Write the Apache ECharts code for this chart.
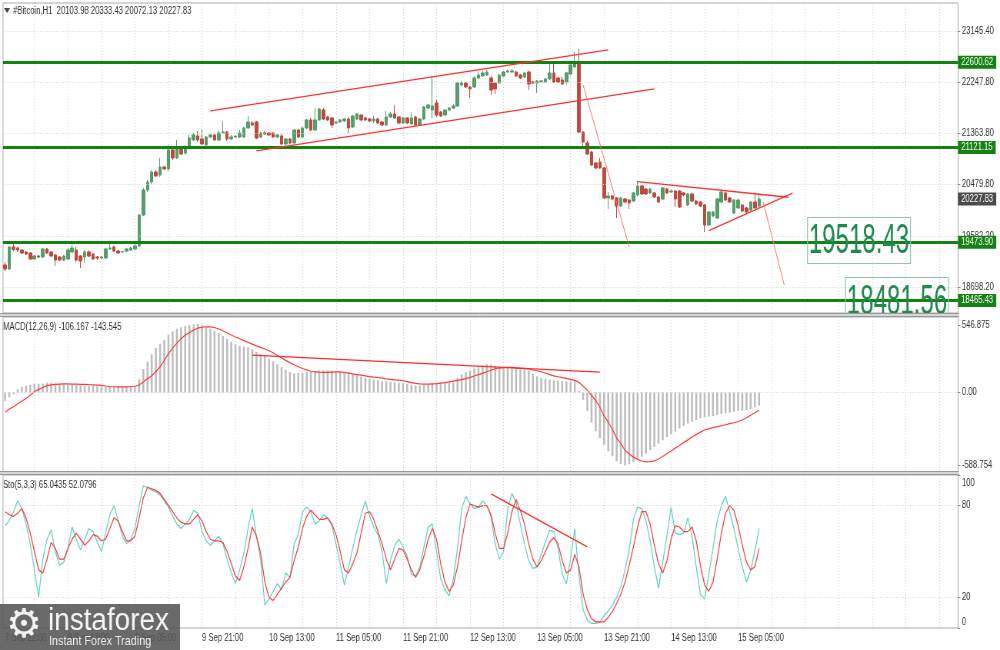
<!DOCTYPE html>
<html><head><meta charset="utf-8">
<script src="https://cdn.jsdelivr.net/npm/echarts@6/dist/echarts.min.js"></script>
<style>
html,body{margin:0;padding:0;background:#fff;overflow:hidden;width:1000px;height:650px}
#wrap{width:1000px;height:650px;overflow:hidden}
#c{width:1300px;height:650px;transform:scaleX(0.7692308);transform-origin:0 0}
</style>
</head><body><div id="wrap"><div id="c"></div></div>
<script>
// ---------------- DATA ----------------
// hourly candles [open, close, low, high], 7 Sep 22:00 .. 15 Sep 10:00
const candles = [
[19081,19011,18977,19133],[19011,19394,18994,19411],[19394,19350,19324,19446],[19376,19341,19307,19394],
[19341,19289,19272,19359],[19307,19272,19255,19324],[19289,19185,19168,19307],[19185,19237,19168,19255],
[19237,19220,19203,19255],[19220,19359,19203,19376],[19359,19289,19272,19376],[19307,19237,19220,19324],
[19255,19168,19064,19272],[19220,19168,19150,19237],[19168,19237,19150,19255],[19185,19341,19168,19376],
[19307,19376,19289,19428],[19341,19168,19133,19394],[19237,19150,19029,19255],[19220,19307,19116,19341],
[19307,19237,19220,19341],[19272,19185,19168,19289],[19220,19203,19168,19237],[19203,19220,19185,19237],
[19203,19359,19185,19376],[19359,19376,19341,19463],[19394,19324,19307,19411],[19324,19289,19272,19341],
[19307,19315,19289,19324],[19324,19359,19307,19376],[19341,19376,19324,19394],[19359,19411,19341,19446],
[19411,19949,19394,19967],[19949,20384,19932,20418],[20384,20523,20349,20557],[20523,20696,20488,20731],
[20696,20627,20610,20731],[20644,20783,20610,20940],[20783,20749,20731,20801],[20749,21079,20714,21165],
[21079,20940,20905,21113],[20940,21096,20922,21252],[21096,21009,20992,21131],[21026,21113,20992,21165],
[21113,21287,21096,21339],[21252,21339,21235,21374],[21322,21252,21217,21409],[21270,21183,21165,21426],
[21165,21304,21148,21322],[21304,21339,21287,21356],[21339,21252,21235,21356],[21252,21374,21235,21409],
[21374,21391,21356,21582],[21391,21270,21235,21409],[21270,21304,21252,21339],[21304,21313,21287,21339],
[21304,21374,21287,21426],[21304,21461,21287,21478],[21461,21565,21443,21669],[21547,21513,21495,21582],
[21565,21287,21270,21582],[21304,21374,21287,21391],[21374,21356,21339,21409],[21374,21339,21322,21391],
[21374,21304,21287,21391],[21304,21339,21287,21356],[21322,21183,21165,21356],[21183,21270,21148,21287],
[21270,21200,21183,21287],[21200,21426,21183,21443],[21426,21304,21287,21443],[21304,21461,21287,21478],
[21461,21600,21443,21617],[21600,21426,21409,21634],[21426,21600,21409,21808],[21600,21791,21582,21808],
[21773,21617,21600,21808],[21652,21600,21582,21669],[21634,21513,21461,21652],[21547,21565,21530,21582],
[21565,21600,21547,21617],[21582,21617,21565,21634],[21617,21461,21374,21652],[21478,21669,21461,21686],
[21617,21704,21600,21721],[21686,21600,21582,21704],[21634,21600,21582,21652],[21617,21582,21565,21634],
[21582,21617,21547,21669],[21617,21547,21530,21634],[21565,21513,21495,21582],[21513,21652,21495,21756],
[21652,21704,21634,21739],[21704,21634,21617,21860],[21652,21547,21530,21669],[21547,21634,21530,21652],
[21634,21547,21530,21652],[21530,21634,21513,21739],[21652,21513,21478,21669],[21513,21617,21495,21634],
[21617,21825,21600,21843],[21808,21860,21791,21878],[21773,21843,21634,22364],[21895,21686,21652,21947],
[21739,21669,21652,21756],[21686,21773,21669,21791],[21773,21808,21756,21825],[21808,21843,21791,21878],
[21843,22242,21825,22260],[22207,22242,22190,22277],[22242,22173,22156,22260],[22173,22138,21982,22190],
[22173,22329,22156,22364],[22329,22381,22312,22433],[22364,22416,22347,22451],[22381,22433,22364,22468],
[22329,22121,22034,22364],[22242,22138,22051,22260],[22242,22381,22225,22399],[22364,22433,22347,22451],
[22433,22451,22416,22468],[22433,22451,22416,22486],[22433,22364,22347,22451],[22381,22329,22312,22399],
[22347,22416,22329,22433],[22433,22225,22121,22451],[22260,22242,22225,22277],[22242,22277,22069,22294],
[22260,22277,22242,22294],[22260,22312,22242,22329],[22312,22416,22294,22590],[22416,22260,22242,22590],
[22329,22260,22242,22347],[22294,22225,22207,22347],[22260,22416,22225,22433],[22399,22555,22381,22572],
[22520,22590,22503,22781],[22572,21391,21374,22833],[21391,21217,21148,21409],[21200,21009,20992,21235],
[21044,20818,20801,21061],[20853,20766,20749,20870],[20870,20766,20749,20940],[20766,20245,20227,20783],
[20245,20280,20054,20349],[20280,20227,20210,20297],[20245,20106,19897,20262],[20106,20245,20088,20262],
[20227,20175,20158,20245],[20210,20158,20054,20227],[20193,20332,20175,20349],[20297,20453,20280,20540],
[20453,20314,20297,20471],[20401,20314,20297,20418],[20332,20401,20314,20418],[20332,20262,20245,20349],
[20262,20175,20158,20280],[20227,20418,20210,20436],[20401,20332,20314,20418],[20349,20366,20332,20384],
[20366,20227,20088,20384],[20366,20088,20071,20384],[20332,20297,20280,20349],[20123,20314,20106,20332],
[20314,20193,20175,20332],[20193,20141,20123,20210],[20175,20106,20088,20193],[20123,19776,19654,20141],
[19776,20002,19758,20019],[19932,20002,19915,20019],[19897,20227,19880,20245],[20175,20349,20158,20401],
[20332,20210,20193,20349],[20245,20175,20158,20262],[19984,20210,19967,20227],[20071,20210,20054,20227],
[20123,20019,20002,20141],[20071,20002,19984,20088],[20036,20175,20019,20193],[20175,20071,20054,20349],
[20103.98,20227.83,20072.13,20333.43]
];
const macdMain = [
-70,-40,-15,25,45,55,62,68,70,72,
80,78,72,70,68,66,64,60,58,56,
54,52,50,48,46,45,45,46,46,47,
48,52,110,190,250,310,360,395,425,470,
495,515,528,538,546,552,555,545,530,515,
500,480,458,435,410,390,378,372,368,350,
330,312,298,275,252,228,205,185,165,155,
160,160,165,168,172,178,180,180,178,172,
168,165,160,150,140,128,118,110,105,100,
92,88,85,82,80,75,70,62,55,55,
60,65,70,72,75,78,80,82,115,145,
165,178,195,208,222,230,225,215,210,208,
205,200,198,195,190,175,150,130,118,112,
105,100,96,92,90,90,88,15,-60,-150,
-245,-315,-370,-425,-478,-518,-558,-580,-590,-582,
-565,-545,-522,-496,-468,-442,-415,-388,-362,-338,
-318,-292,-272,-252,-238,-224,-210,-202,-197,-192,
-183,-175,-170,-165,-157,-151,-148,-143,-138,-121,
-106.167
];
const macdSignal = [
-160,-135,-116,-92,-70,-50,-22,5,25,40,
55,62,66,68,69,69,68,67,66,65,
63,62,60,57,52,48,46,45,45,45,
46,50,60,85,112,135,170,208,260,315,
360,400,435,465,485,505,522,530,533,532,
527,515,500,484,466,450,436,420,406,392,
378,366,352,338,322,300,280,260,242,225,
208,194,183,172,166,164,163,163,165,167,
168,163,157,150,145,140,134,129,125,121,
116,110,106,102,100,95,88,80,74,70,
68,68,70,72,76,80,86,92,98,104,
112,122,133,144,155,168,180,192,198,202,
204,204,200,197,195,190,182,176,168,158,
144,135,127,120,114,106,98,82,50,19,
-25,-65,-120,-190,-240,-300,-372,-415,-470,-500,
-525,-543,-556,-563,-562,-555,-540,-520,-496,-475,
-452,-430,-405,-385,-362,-342,-322,-305,-295,-285,
-278,-270,-262,-253,-246,-236,-224,-205,-185,-165,
-143.545
];
const stochK = [
67,70,76,83,78,68,55,38,20,45,
58,64,50,41,43,52,66,58,51,58,
65,63,56,50,62,74,80,70,60,55,
58,65,80,93,92,90,89,87,83,79,
73,68,65,68,71,77,75,63,57,54,
57,60,55,45,36,29,38,49,65,78,
60,45,15,19,24,29,25,36,33,55,
61,76,79,76,68,70,74,72,67,55,
42,28,40,52,64,74,83,73,66,61,
50,29,44,54,58,53,47,35,34,40,
53,66,68,50,32,25,21,32,52,78,
86,81,78,79,83,80,73,55,45,50,
78,88,82,68,55,44,39,40,48,56,
64,63,52,35,29,45,65,34,12,5,
3,3,4,8,11,15,20,27,38,51,
71,79,78,70,57,40,26,43,60,79,
62,61,62,72,60,40,22,19,35,52,
70,80,86,76,65,52,40,30,38,50,
65.0435
];
const stochD = [
76,74,73,75,78,72,62,50,38,36,
45,56,52,45,45,52,58,62,58,54,
57,61,60,57,58,65,72,70,63,57,
57,60,72,85,92,91,90,88,84,80,
76,72,69,68,68,71,74,70,63,58,
57,57,56,50,42,34,31,40,52,66,
60,49,30,20,18,22,26,30,33,44,
53,65,73,77,74,71,71,72,68,61,
50,38,36,42,49,62,75,76,71,63,
55,45,38,45,52,51,45,38,33,38,
47,58,65,58,42,30,24,28,40,57,
72,81,80,79,80,80,74,62,52,52,
62,76,84,77,68,55,45,40,44,50,
56,59,55,44,36,38,48,40,22,12,
6,4,4,4,7,11,16,22,30,41,
53,66,76,76,68,54,42,36,44,58,
67,66,63,63,66,57,41,28,24,30,
45,62,75,80,77,67,54,43,38,40,
52.0796
];
const timeLabels = ['7 Sep 22:00','8 Sep 13:00','9 Sep 05:00','9 Sep 21:00','10 Sep 13:00','11 Sep 05:00',
  '11 Sep 21:00','12 Sep 13:00','13 Sep 05:00','13 Sep 21:00','14 Sep 13:00','15 Sep 05:00'];
const priceTicks = [23145.40, 22247.80, 21363.80, 20479.80, 19582.20, 18698.20];
const levels = [22600.62, 21121.15, 19473.90, 18465.43];
const lastPrice = 20227.83;
const macdTicks = [546.875, 0, -588.754];
const stochTicks = [100, 80, 20, 0];
const boxTexts = ['19518.43', '18481.56'];
// trend lines: [[barIndex, value], [barIndex, value]]
const channelUpper = [[49, 21756], [144, 22816]];
const channelLower = [[60, 21061], [155, 22138]];
const dropLine = [[138, 22207], [149, 19394]];
const triangleTop = [[151, 20528], [187, 20257]];
const triangleBottom = [[168, 19677], [188, 20327]];
const projection = [[181, 20175], [186, 18734]];
const macdLine = [[59, 303], [142, 165]];
const stochLine = [[116, 87.6], [139, 53]];

// hourly slots (including the empty space right of the last bar)
const categories = [];
(function(){
  const slots = 228;
  for (let k = 0; k < slots; k++) {
    const h = 22 + k;
    const d = 7 + Math.floor(h / 24);
    const hh = h % 24;
    categories.push(d + ' Sep ' + String(hh).padStart(2, '0') + ':00');
  }
})();

// ---------------- CHART ----------------
// the drawing is made 1.3x wider and squeezed back to 1000px (as in the reference picture)
const SX = 1.3;
const X = v => v * SX;
const FONT = "'Liberation Sans',Arial,sans-serif";
const GREEN = '#128212';
const UP = '#559d69', DOWN = '#bd4a3f';
const chart = echarts.init(document.getElementById('c'));

const gridDef = [
  {left: X(3), top: 3, width: X(955), height: 310},
  {left: X(3), top: 317, width: X(955), height: 155},
  {left: X(3), top: 475, width: X(955), height: 153}
];
function xAxisFor(gi, showLabels) {
  return {
    type: 'category', gridIndex: gi, data: categories, boundaryGap: true,
    axisLine: {show: false}, axisTick: {show: false},
    axisLabel: {
      show: showLabels, interval: 0, align: 'left', margin: 5, color: '#333', fontSize: 10, fontFamily: FONT,
      formatter: v => timeLabels.indexOf(v) >= 0 ? v : ''
    },
    splitLine: {show: true, alignWithLabel: true, interval: (idx) => idx % 8 === 7,
      lineStyle: {color: '#d4d4d4', type: [1, 2], width: 1}}
  };
}
function seg(pair, color, width) {
  return [{coord: [pair[0][0], pair[0][1]], lineStyle: {color: color, width: width, type: 'solid'}},
          {coord: [pair[1][0], pair[1][1]]}];
}
const dotted = {color: '#d4d4d4', type: [1, 2], width: 1};

const mainMarkData = [];
priceTicks.forEach(v => mainMarkData.push({yAxis: v, lineStyle: dotted, label: {show: false}}));
levels.forEach(v => mainMarkData.push({
  yAxis: v, lineStyle: {color: GREEN, width: 3, type: 'solid'},
  label: {show: true, position: 'end', distance: 0, formatter: v.toFixed(2), color: '#fff', backgroundColor: GREEN,
    padding: [2, 4, 1, 4], fontSize: 10, fontFamily: FONT}
}));
mainMarkData.push({
  yAxis: lastPrice, lineStyle: {color: 'rgba(0,0,0,0)', width: 0},
  label: {show: true, position: 'end', distance: 0, formatter: lastPrice.toFixed(2), color: '#fff', backgroundColor: '#4a4a4a',
    padding: [2, 4, 1, 4], fontSize: 10, fontFamily: FONT}
});
mainMarkData.push(seg(channelUpper, '#ff3030', 1.3));
mainMarkData.push(seg(channelLower, '#ff3030', 1.3));
mainMarkData.push(seg(dropLine, '#ff7070', 1));
mainMarkData.push(seg(triangleTop, '#ff3030', 1.3));
mainMarkData.push(seg(triangleBottom, '#ff3030', 1.3));
mainMarkData.push(seg(projection, '#ff7070', 1));

const option = {
  animation: false,
  backgroundColor: '#ffffff',
  grid: gridDef.map(g => Object.assign({show: true, borderColor: '#a8a8a8', borderWidth: 1, backgroundColor: '#fff',
    containLabel: false, outerBoundsMode: 'none'}, g)),
  xAxis: [xAxisFor(0, false), xAxisFor(1, false), xAxisFor(2, true)],
  yAxis: [
    {type: 'value', gridIndex: 0, position: 'right', min: 18247, max: 23631, scale: true,
      axisLine: {show: false}, splitLine: {show: false},
      axisTick: {show: true, length: 3, customValues: priceTicks, lineStyle: {color: '#888'}},
      axisLabel: {customValues: priceTicks, formatter: v => v.toFixed(2), color: '#333', fontSize: 10, fontFamily: FONT, margin: 5}},
    {type: 'value', gridIndex: 1, position: 'right', min: -645.5, max: 612,
      axisLine: {show: false}, splitLine: {show: false},
      axisTick: {show: true, length: 3, customValues: macdTicks, lineStyle: {color: '#888'}},
      axisLabel: {customValues: macdTicks, formatter: v => v === 0 ? '0.00' : String(v), color: '#333', fontSize: 10, fontFamily: FONT, margin: 5}},
    {type: 'value', gridIndex: 2, position: 'right', min: 0, max: 100,
      axisLine: {show: false}, splitLine: {show: false},
      axisTick: {show: true, length: 3, customValues: stochTicks, lineStyle: {color: '#888'}},
      axisLabel: {customValues: stochTicks, color: '#333', fontSize: 10, fontFamily: FONT, margin: 5,
        formatter: v => v === 100 ? '{t|100}' : (v === 0 ? '{b|0}' : String(v)),
        rich: {t: {padding: [16, 0, 0, 0], fontSize: 10, fontFamily: FONT, color: '#333'},
               b: {padding: [0, 0, 12, 0], fontSize: 10, fontFamily: FONT, color: '#333'}}}}
  ],
  series: [
    {type: 'candlestick', xAxisIndex: 0, yAxisIndex: 0, data: candles, barWidth: 4,
      itemStyle: {color: UP, color0: DOWN, borderColor: UP, borderColor0: DOWN, borderWidth: 1},
      markLine: {silent: true, symbol: ['none', 'none'], animation: false, label: {show: false}, data: mainMarkData}},
    {type: 'bar', xAxisIndex: 1, yAxisIndex: 1, data: macdMain, barWidth: 2.5, itemStyle: {color: '#bdbdbd'},
      markLine: {silent: true, symbol: ['none', 'none'], animation: false, label: {show: false},
        data: [{yAxis: 0, lineStyle: dotted}, seg(macdLine, '#ff2a2a', 1.3)]}},
    {type: 'line', xAxisIndex: 1, yAxisIndex: 1, data: macdSignal, showSymbol: false, symbol: 'none',
      lineStyle: {color: '#ff3a3a', width: 1.2}},
    {type: 'line', xAxisIndex: 2, yAxisIndex: 2, data: stochK, showSymbol: false, symbol: 'none',
      lineStyle: {color: '#5fd0c4', width: 1.2},
      markLine: {silent: true, symbol: ['none', 'none'], animation: false, label: {show: false},
        data: [{yAxis: 80, lineStyle: dotted}, {yAxis: 20, lineStyle: dotted}, seg(stochLine, '#ff2a2a', 1.3)]}},
    {type: 'line', xAxisIndex: 2, yAxisIndex: 2, data: stochD, showSymbol: false, symbol: 'none',
      lineStyle: {color: '#ff3a3a', width: 1.2}}
  ],
  graphic: [
    // header texts
    {type: 'polygon', z: 100, shape: {points: [[X(4), 8], [X(10), 8], [X(7), 13]]}, style: {fill: '#444'}},
    {type: 'text', z: 100, x: X(13), y: 11, style: {text: '#Bitcoin,H1  20103.98 20333.43 20072.13 20227.83',
      fill: '#333', fontSize: 10, fontFamily: FONT, verticalAlign: 'middle'}},
    {type: 'text', z: 100, x: X(3), y: 327, style: {text: 'MACD(12,26,9) -106.167 -143.545',
      fill: '#333', fontSize: 10, fontFamily: FONT, verticalAlign: 'middle'}},
    {type: 'text', z: 100, x: X(3), y: 485, style: {text: 'Sto(5,3,3) 65.0435 52.0796',
      fill: '#333', fontSize: 10, fontFamily: FONT, verticalAlign: 'middle'}},
    // text boxes
    {type: 'rect', z: 90, shape: {x: X(807.5), y: 217.5, width: X(103), height: 46}, style: {fill: 'rgba(255,255,255,0)', stroke: '#8fc8a2', lineWidth: 1.2}},
    {type: 'text', z: 91, x: X(859), y: 241, scaleX: 0.745, style: {text: boxTexts[0], fill: '#1f8a4f', fontSize: 42,
      fontFamily: FONT, align: 'center', verticalAlign: 'middle'}},
    {type: 'rect', z: 90, shape: {x: X(845.5), y: 277.5, width: X(103), height: 36}, style: {fill: 'rgba(255,255,255,0)', stroke: '#8fc8a2', lineWidth: 1.2}},
    {type: 'text', z: 91, x: X(897), y: 302, scaleX: 0.745, style: {text: boxTexts[1], fill: '#1f8a4f', fontSize: 42,
      fontFamily: FONT, align: 'center', verticalAlign: 'middle'}},
    // panel separators
    {type: 'rect', z: 95, shape: {x: 0, y: 313, width: X(959), height: 4}, style: {fill: '#d6d6d6'}},
    {type: 'line', z: 96, shape: {x1: 0, y1: 313.5, x2: X(959), y2: 313.5}, style: {stroke: '#999', lineWidth: 1}},
    {type: 'line', z: 96, shape: {x1: 0, y1: 316.5, x2: X(959), y2: 316.5}, style: {stroke: '#999', lineWidth: 1}},
    {type: 'rect', z: 95, shape: {x: 0, y: 471, width: X(959), height: 4}, style: {fill: '#d6d6d6'}},
    {type: 'line', z: 96, shape: {x1: 0, y1: 471.5, x2: X(959), y2: 471.5}, style: {stroke: '#999', lineWidth: 1}},
    {type: 'line', z: 96, shape: {x1: 0, y1: 474.5, x2: X(959), y2: 474.5}, style: {stroke: '#999', lineWidth: 1}},
    // logo
    {type: 'rect', z: 110, shape: {x: 0, y: 604, width: X(180), height: 46}, style: {fill: 'rgba(85,85,85,0.88)'}},
    {type: 'text', z: 111, x: X(24), y: 627, scaleX: SX, style: {text: '\u2699', fill: '#f2f2f2', fontSize: 40,
      fontFamily: "'DejaVu Sans',sans-serif", align: 'center', verticalAlign: 'middle'}},
    {type: 'text', z: 111, x: X(48), y: 621, scaleX: 0.9 * SX, style: {text: 'instaforex', fill: '#f5f5f5', fontSize: 31,
      fontFamily: FONT, verticalAlign: 'middle'}},
    {type: 'text', z: 111, x: X(49), y: 641, scaleX: 0.83 * SX, style: {text: 'Instant Forex Trading', fill: '#eeeeee', fontSize: 13,
      fontFamily: FONT, verticalAlign: 'middle'}}
  ]
};
chart.setOption(option);
</script>
</body></html>
